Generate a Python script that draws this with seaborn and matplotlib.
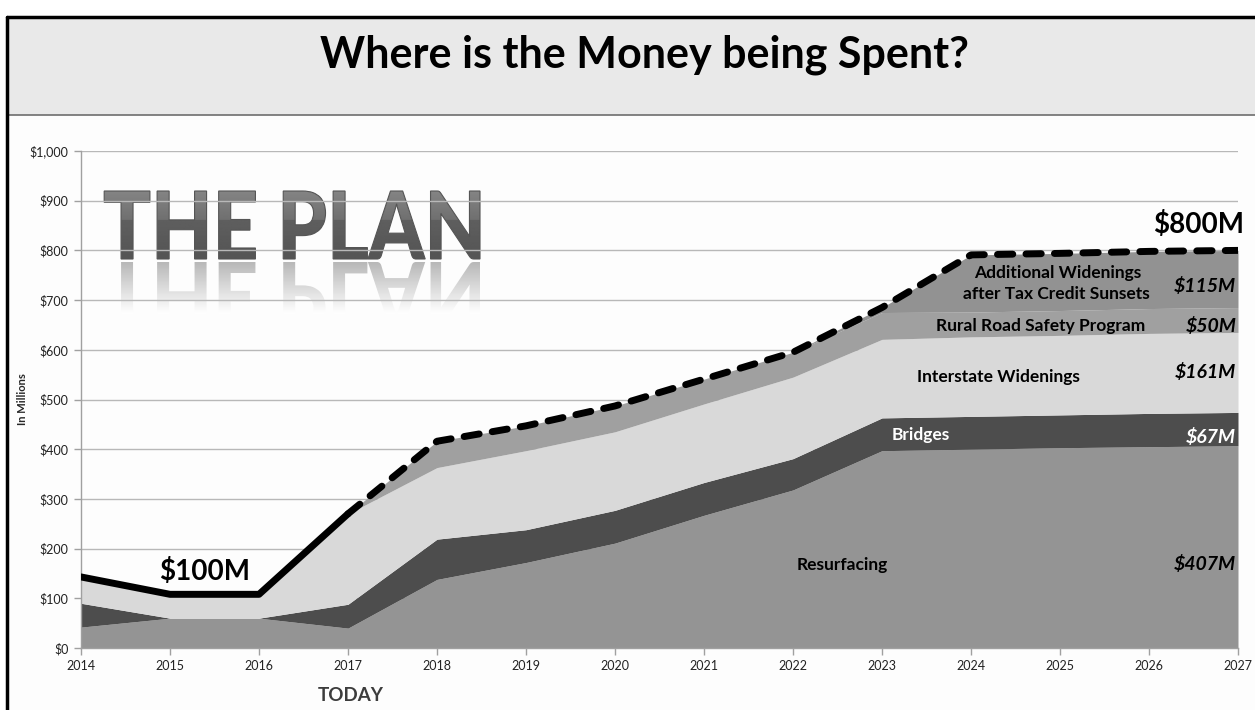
import numpy as np
import pandas as pd
import matplotlib
matplotlib.use("Agg")
import matplotlib.pyplot as plt
import seaborn as sns
from matplotlib.textpath import TextPath
from matplotlib.patches import PathPatch, Rectangle
from matplotlib.font_manager import FontProperties
from matplotlib.transforms import Affine2D
from matplotlib.ticker import FuncFormatter

# values, $ millions
years = [2014, 2015, 2016, 2017, 2018, 2019, 2020, 2021, 2022, 2023, 2024, 2025, 2026, 2027]
resurfacing = [42, 60, 60, 40, 138, 172, 211, 267, 318, 397, 400, 403, 405, 407]
bridges = [48, 0, 0, 48, 81, 66, 66, 66, 63, 66, 66, 66, 67, 67]
interstate = [53, 48, 48, 182, 144, 159, 158, 158, 164, 158, 160, 160, 161, 161]
rural_safety = [0, 0, 0, 0, 53, 50, 52, 50, 50, 54, 50, 50, 50, 50]
additional = [0, 0, 0, 0, 0, 0, 0, 0, 0, 10, 115, 115, 115, 115]
layer_colors = ["#949494", "#4d4d4d", "#d9d9d9", "#a0a0a0", "#929292"]

df = pd.DataFrame({"year": years, "resurfacing": resurfacing, "bridges": bridges,
                   "interstate": interstate, "rural": rural_safety, "additional": additional})
df["total"] = df[["resurfacing", "bridges", "interstate", "rural", "additional"]].sum(axis=1)
today = 2017

sns.set_theme(style="white")
plt.rcParams["font.family"] = ["Lato", "DejaVu Sans"]

W, H = 1255, 710
fig = plt.figure(figsize=(W / 100, H / 100), dpi=100)
fig.patch.set_facecolor("white")

# background / frame layer in pixel coordinates
bg = fig.add_axes([0, 0, 1, 1], zorder=0)
bg.add_patch(Rectangle((7, 17), W, 98, facecolor="#e9e9e9", edgecolor="none", zorder=1))
bg.add_patch(Rectangle((7, 115), W, H, facecolor="#fdfdfd", edgecolor="none", zorder=1))
bg.plot([7, W], [115, 115], color="#6e6e6e", lw=1.2, zorder=2)
bg.plot([7, W], [17, 17], color="black", lw=2.5, zorder=2)
bg.plot([7, 7], [17, H], color="black", lw=2.5, zorder=2)
bg.text(644, 55, "Where is the Money being Spent?", ha="center", va="center",
        fontsize=31, fontweight="bold", color="black", zorder=3)

# "THE PLAN" word art with reflection
tp = TextPath((0, 0), "THE PLAN", size=1, prop=FontProperties(family="Lato", weight="black"))
vx0, vy0 = tp.vertices.min(axis=0)
vx1, vy1 = tp.vertices.max(axis=0)
x0, x1, ytop, ybase = 103, 480, 191, 259
sx = (x1 - x0) / (vx1 - vx0)
sy = (ybase - ytop) / (vy1 - vy0)
main_tr = Affine2D().translate(-vx0, -vy0).scale(sx, -sy).translate(x0, ybase)
refl_tr = Affine2D().translate(-vx0, -vy0).scale(sx, sy).translate(x0, ybase + 3)

grad = np.concatenate([np.linspace(0.52, 0.44, 30), np.linspace(0.37, 0.33, 40)])[:, None]
patch = PathPatch(tp, transform=main_tr + bg.transData, facecolor="none",
                  edgecolor="#555555", lw=0.8, zorder=5)
bg.add_patch(patch)
im = bg.imshow(grad, extent=(x0, x1, ybase + 2, ytop - 2), cmap="gray", vmin=0, vmax=1,
               aspect="auto", origin="upper", interpolation="bilinear", zorder=4)
im.set_clip_path(patch)

rpatch = PathPatch(tp, transform=refl_tr + bg.transData, facecolor="none", edgecolor="none",
                   zorder=4)
bg.add_patch(rpatch)
rgrad = np.linspace(0.72, 1.0, 60)[:, None]
rim = bg.imshow(rgrad, extent=(x0, x1, ybase + 3 + 52, ybase + 3), cmap="gray", vmin=0, vmax=1,
                aspect="auto", origin="upper", interpolation="bilinear", zorder=4)
rim.set_clip_path(rpatch)
bg.set_xlim(0, W)
bg.set_ylim(H, 0)
bg.axis("off")

# main chart
ax = fig.add_axes([81 / W, 1 - 648 / H, (1238 - 81) / W, (648 - 151) / H], zorder=1)
ax.set_facecolor("none")
ax.stackplot(df["year"], df["resurfacing"], df["bridges"], df["interstate"], df["rural"],
             df["additional"], colors=layer_colors, linewidth=0, zorder=2)

past = df[df["year"] <= today]
future = df[df["year"] >= today]
sns.lineplot(x=past["year"], y=past["total"], ax=ax, color="black", lw=5, zorder=4)
ax.lines[-1].set_solid_capstyle("round")
sns.lineplot(x=future["year"], y=future["total"], ax=ax, color="black", lw=5,
             linestyle=(0, (2.2, 1.9)), zorder=4)
ax.lines[-1].set_dash_capstyle("round")

ax.set_xlim(2014, 2027)
ax.set_ylim(0, 1000)
ax.set_xticks(years)
ax.set_yticks(range(0, 1001, 100))
ax.yaxis.set_major_formatter(FuncFormatter(lambda v, p: f"${v:,.0f}"))
ax.grid(axis="y", color="#b8b8b8", lw=1.0, zorder=0)
ax.set_axisbelow(True)
for s in ["top", "right"]:
    ax.spines[s].set_visible(False)
for s in ["left", "bottom"]:
    ax.spines[s].set_color("#a0a0a0")
    ax.spines[s].set_linewidth(1.0)
ax.tick_params(axis="both", which="major", direction="out", length=5, width=1,
               color="#a0a0a0", labelsize=9, labelcolor="#222222", pad=4,
               left=True, bottom=True)
ax.set_xlabel("")
ax.set_ylabel("In Millions", fontsize=8, fontweight="bold")
ax.yaxis.set_label_coords(-0.046, 0.5)

lab = dict(fontsize=12.5, fontweight="bold", va="center")
val = dict(fontsize=14, fontweight="bold", style="italic", va="center", ha="right")
ax.text(2022.55, 166, "Resurfacing", ha="center", color="black", **lab)
ax.text(2023.44, 428, "Bridges", ha="center", color="white", **lab)
ax.text(2024.31, 545, "Interstate Widenings", ha="center", color="black", **lab)
ax.text(2024.78, 647, "Rural Road Safety Program", ha="center", color="black", **lab)
ax.text(2024.97, 754, "Additional Widenings", ha="center", color="black", **lab)
ax.text(2024.96, 712, "after Tax Credit Sunsets", ha="center", color="black", **lab)
ax.text(2026.98, 728, "$115M", color="black", **val)
ax.text(2026.98, 647, "$50M", color="black", **val)
ax.text(2026.98, 555, "$161M", color="black", **val)
ax.text(2026.98, 424, "$67M", color="white", **val)
ax.text(2026.98, 170, "$407M", color="black", **val)
ax.text(2027.07, 852, "$800M", ha="right", va="center", fontsize=20, fontweight="bold",
        color="black", clip_on=False)
ax.text(2015.39, 154, "$100M", ha="center", va="center", fontsize=20, fontweight="bold",
        color="black")
ax.text(2017.03, -96, "TODAY", ha="center", va="center", fontsize=13.5, fontweight="bold",
        color="#3c3c3c", clip_on=False)

fig.savefig("out.png", dpi=100)
